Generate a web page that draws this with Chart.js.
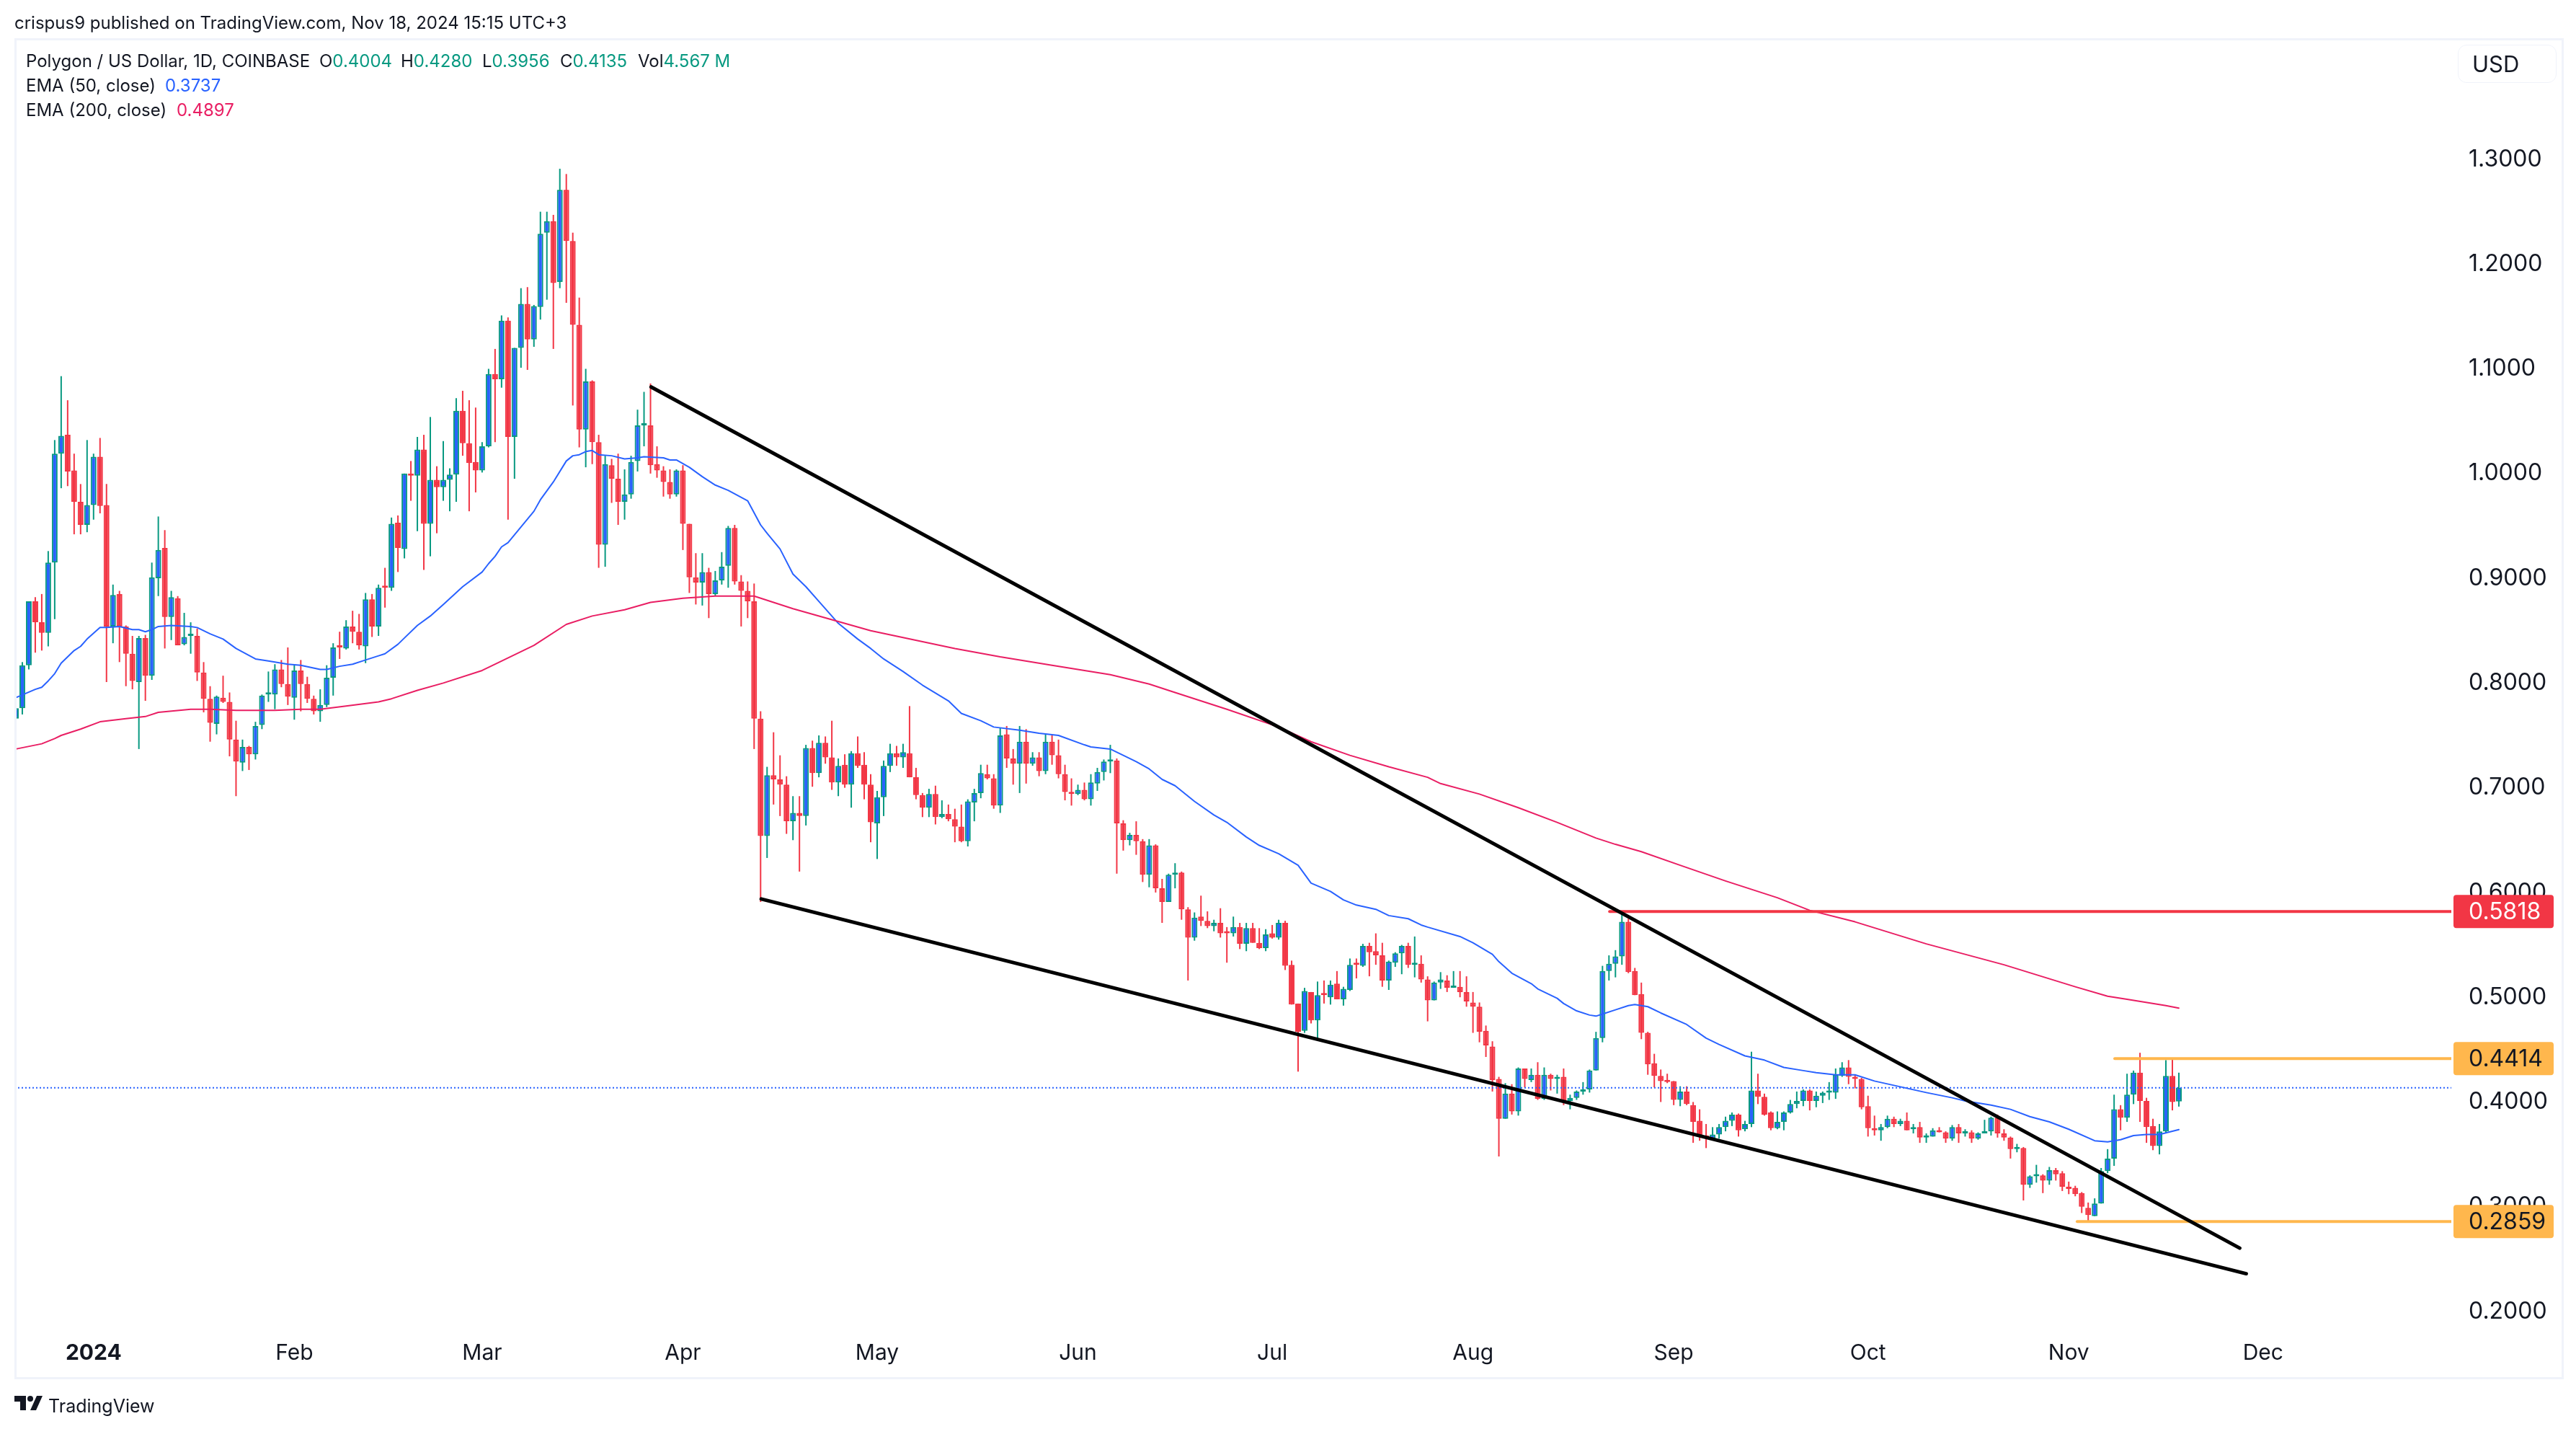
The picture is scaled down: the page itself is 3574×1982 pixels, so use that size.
<!DOCTYPE html>
<html>
<head>
<meta charset="utf-8">
<title>Polygon / US Dollar</title>
<script src="https://cdn.jsdelivr.net/npm/chart.js@4"></script>
<style>
    html, body { margin: 0; padding: 0; background: #fff; }
    body { width: 3574px; height: 1982px; position: relative; overflow: hidden; font-family: Inter, sans-serif; color: #131722; }
    canvas { position: absolute; left: 0; top: 0; }
    .txt { position: absolute; white-space: pre; font-size: 24px; line-height: 34px; }
    .green { color: #089981; }
    #moldura { position: absolute; left: 20px; top: 53px; width: 3531px; height: 1854px; border: 3px solid #f0f3fa; pointer-events: none; }
    #usd { position: absolute; left: 3410px; top: 62px; width: 135px; height: 51px; border: 1px solid #f0f3fa; border-radius: 12px; font-size: 31px; line-height: 51px; padding-left: 0; text-indent: 19px; }
    #logo { position: absolute; left: 20px; top: 1936px; }
</style>
</head>
<body>
<canvas id="grafico" width="3574" height="1982"></canvas>
<div id="moldura"></div>
<div class="txt" style="left:20px;top:15px">crispus9 published on TradingView.com, Nov 18, 2024 15:15 UTC+3</div>
<div class="txt" style="left:36px;top:68px">Polygon / US Dollar, 1D, COINBASE</div>
<div class="txt" style="left:443px;top:68px">O<span class="green">0.4004</span></div>
<div class="txt" style="left:556px;top:68px">H<span class="green">0.4280</span></div>
<div class="txt" style="left:669px;top:68px">L<span class="green">0.3956</span></div>
<div class="txt" style="left:777px;top:68px">C<span class="green">0.4135</span></div>
<div class="txt" style="left:885px;top:68px">Vol<span class="green">4.567 M</span></div>
<div class="txt" style="left:36px;top:102px">EMA (50, close)</div>
<div class="txt" style="left:229px;top:102px;color:#2962ff">0.3737</div>
<div class="txt" style="left:36px;top:136px">EMA (200, close)</div>
<div class="txt" style="left:245px;top:136px;color:#e91e63">0.4897</div>
<div id="usd">USD</div>
<svg id="logo" width="39" height="20" viewBox="0 0 39 20"><path fill="#131722" d="M0 0h16v20H8V8H0zM31 0h8l-9 20h-8z"/><circle fill="#131722" cx="22" cy="4" r="4"/></svg>
<div class="txt" style="left:67px;top:1933px;font-size:25px">TradingView</div>

<script>
// dia 0 = 1 Jan 2024, a primeira vela e de 20 Dez
const primeiroDia = -12;

const abertura = [
    .766,.776,.817,.878,.858,.848,.915,1.019,1.037,1.003,
    .973,.951,.970,1.016,.970,.854,.885,.854,.828,.801,
    .843,.807,.900,.929,.863,.881,.837,.845,.845,.810,
    .785,.761,.786,.782,.746,.724,.739,.732,.760,.789,
    .789,.813,.799,.786,.812,.799,.785,.773,.779,.805,
    .835,.833,.854,.849,.835,.880,.854,.892,.891,.953,
    .928,.999,.998,1.023,.952,.994,.987,.994,.999,1.060,
    1.029,1.011,1.003,1.026,1.095,1.090,1.146,1.035,1.120,1.162,
    1.128,1.159,1.230,1.241,1.183,1.271,1.222,1.142,1.042,1.088,
    1.030,.932,1.008,.995,.973,.980,1.012,1.046,1.046,1.009,
    1.003,.992,.980,1.003,.952,.901,.896,.906,.885,.898,
    .912,.948,.897,.888,.878,.766,.654,.712,.708,.703,
    .668,.676,.673,.738,.714,.743,.729,.705,.722,.703,
    .733,.722,.703,.666,.691,.721,.733,.729,.733,.710,
    .693,.681,.694,.672,.675,.670,.663,.649,.686,.695,
    .713,.709,.683,.751,.728,.723,.744,.723,.729,.716,
    .744,.731,.713,.696,.694,.698,.689,.704,.715,.725,
    .726,.666,.650,.655,.649,.617,.645,.604,.591,.617,
    .619,.584,.557,.577,.573,.568,.571,.562,.561,.567,
    .551,.566,.552,.547,.561,.557,.571,.531,.494,.468,
    .505,.478,.503,.500,.513,.498,.507,.532,.530,.549,
    .544,.540,.516,.533,.542,.549,.531,.532,.517,.497,
    .514,.516,.509,.510,.505,.495,.491,.468,.453,.422,
    .384,.408,.391,.432,.421,.426,.403,.426,.422,.424,
    .401,.404,.410,.412,.430,.461,.525,.532,.539,.572,
    .525,.503,.466,.437,.425,.421,.420,.402,.410,.397,
    .382,.368,.365,.369,.376,.382,.388,.374,.379,.411,
    .405,.390,.375,.381,.390,.398,.401,.411,.401,.406,
    .409,.409,.425,.433,.424,.422,.396,.375,.373,.376,
    .384,.379,.382,.374,.376,.366,.367,.373,.371,.365,
    .376,.370,.371,.365,.370,.372,.385,.370,.366,.355,
    .356,.321,.329,.330,.325,.335,.332,.319,.318,.313,
    .299,.291,.303,.334,.346,.393,.385,.407,.428,.401,
    .377,.358,.372,.425,.4004
];
const maximas = [
    .797,.820,.878,.882,.885,.926,1.032,1.093,1.070,1.019,
    .990,1.032,1.019,1.034,.990,.894,.888,.855,.845,.845,
    .846,.915,.959,.946,.888,.883,.867,.858,.852,.820,
    .797,.788,.807,.791,.764,.746,.740,.763,.789,.811,
    .818,.822,.834,.817,.822,.806,.788,.794,.817,.838,
    .849,.860,.869,.866,.886,.885,.894,.910,.958,.960,
    1.000,1.012,1.035,1.037,1.054,1.007,1.031,1.005,1.072,1.079,
    1.070,1.063,1.030,1.100,1.119,1.151,1.149,1.120,1.177,1.178,
    1.161,1.250,1.250,1.247,1.291,1.286,1.230,1.168,1.100,1.089,
    1.037,1.017,1.014,1.019,1.004,1.017,1.061,1.078,1.086,1.026,
    1.007,1.004,1.004,1.008,.952,.924,.924,.910,.907,.925,
    .950,.951,.903,.897,.895,.773,.720,.753,.731,.711,
    .692,.692,.741,.745,.750,.749,.764,.728,.732,.735,
    .749,.734,.713,.697,.726,.742,.740,.742,.778,.719,
    .695,.699,.702,.688,.684,.680,.684,.689,.699,.722,
    .722,.713,.757,.759,.737,.759,.756,.734,.734,.751,
    .750,.746,.722,.709,.703,.705,.713,.719,.727,.741,
    .728,.669,.657,.668,.651,.651,.646,.613,.618,.628,
    .620,.586,.581,.597,.582,.574,.585,.567,.577,.571,
    .571,.571,.566,.565,.569,.574,.573,.535,.494,.509,
    .505,.515,.516,.516,.525,.510,.537,.537,.551,.552,
    .561,.552,.535,.543,.550,.552,.558,.540,.520,.515,
    .524,.521,.525,.525,.520,.505,.495,.473,.458,.424,
    .418,.417,.433,.432,.432,.438,.433,.427,.426,.432,
    .407,.411,.419,.431,.467,.530,.540,.545,.582,.575,
    .528,.514,.467,.446,.431,.427,.420,.415,.415,.400,
    .393,.379,.376,.379,.386,.390,.389,.382,.448,.427,
    .408,.391,.391,.391,.402,.410,.412,.412,.410,.410,
    .419,.432,.438,.440,.426,.423,.406,.387,.379,.387,
    .386,.384,.390,.379,.381,.370,.375,.376,.372,.378,
    .379,.374,.373,.371,.383,.386,.388,.374,.367,.360,
    .357,.330,.340,.331,.338,.337,.334,.324,.320,.314,
    .304,.308,.337,.355,.407,.397,.427,.430,.447,.404,
    .384,.379,.440,.442,.4280
];
const minimas = [
    .754,.770,.813,.829,.831,.835,.861,.986,.988,.942,
    .942,.944,.956,.962,.801,.838,.820,.797,.794,.737,
    .783,.803,.883,.833,.841,.836,.836,.828,.802,.772,
    .744,.751,.781,.730,.692,.716,.717,.727,.756,.782,
    .775,.796,.779,.765,.773,.781,.770,.763,.777,.788,
    .823,.832,.838,.832,.819,.844,.845,.872,.888,.906,
    .919,.974,.945,.908,.921,.943,.974,.964,.973,1.017,
    .964,.982,1.001,1.025,1.030,1.082,.956,.995,1.101,1.099,
    1.121,1.147,1.166,1.119,1.177,1.163,1.065,1.025,1.006,1.009,
    .910,.911,.972,.951,.956,.976,1.002,1.026,1.000,.996,
    .978,.976,.978,.927,.886,.875,.874,.862,.883,.894,
    .891,.894,.854,.862,.737,.591,.633,.684,.673,.656,
    .650,.620,.664,.701,.710,.723,.698,.692,.700,.681,
    .719,.689,.648,.632,.673,.715,.721,.719,.710,.689,
    .672,.672,.665,.671,.668,.648,.648,.644,.668,.690,
    .708,.680,.676,.719,.703,.695,.704,.721,.711,.713,
    .722,.709,.688,.683,.693,.688,.683,.697,.707,.714,
    .618,.640,.645,.636,.610,.605,.600,.571,.591,.604,
    .574,.516,.554,.568,.566,.563,.557,.533,.558,.546,
    .544,.552,.546,.544,.556,.555,.526,.493,.429,.466,
    .475,.460,.494,.493,.498,.492,.506,.518,.529,.520,
    .531,.510,.507,.529,.522,.528,.519,.514,.477,.497,
    .508,.505,.509,.500,.491,.466,.457,.443,.410,.348,
    .384,.388,.387,.414,.419,.402,.402,.411,.408,.397,
    .393,.402,.407,.409,.430,.457,.516,.519,.531,.523,
    .502,.460,.426,.414,.400,.418,.397,.396,.397,.361,
    .363,.356,.365,.365,.372,.377,.367,.372,.376,.398,
    .387,.373,.374,.373,.389,.394,.396,.392,.395,.399,
    .402,.403,.424,.417,.413,.393,.367,.368,.363,.375,
    .376,.377,.373,.370,.361,.361,.367,.371,.361,.363,
    .361,.367,.361,.364,.370,.368,.366,.363,.346,.352,
    .306,.318,.323,.313,.321,.325,.315,.312,.310,.294,
    .285,.291,.303,.332,.339,.373,.381,.398,.381,.361,
    .354,.350,.370,.392,.3956
];
const fechamento = [
    .776,.817,.878,.858,.848,.915,1.019,1.036,1.002,.973,
    .951,.970,1.016,.969,.854,.884,.854,.828,.802,.843,
    .807,.901,.927,.863,.882,.836,.844,.846,.810,.785,
    .762,.787,.782,.746,.725,.739,.732,.759,.788,.790,
    .813,.799,.787,.812,.799,.785,.773,.779,.805,.834,
    .834,.854,.849,.836,.880,.854,.891,.891,.952,.929,
    1.000,.998,1.023,.952,.994,.987,.994,.999,1.060,1.029,
    1.010,1.003,1.026,1.095,1.090,1.146,1.035,1.120,1.162,1.128,
    1.160,1.229,1.241,1.182,1.271,1.222,1.142,1.042,1.088,1.030,
    .932,1.009,.995,.973,.980,1.011,1.046,1.047,1.008,1.003,
    .992,.980,1.003,.952,.901,.896,.906,.885,.898,.911,
    .948,.897,.888,.878,.766,.654,.712,.708,.703,.668,
    .676,.673,.738,.714,.743,.729,.705,.721,.703,.733,
    .721,.703,.667,.691,.721,.733,.729,.734,.710,.693,
    .681,.694,.672,.675,.670,.663,.649,.687,.695,.714,
    .709,.683,.750,.728,.723,.744,.723,.729,.716,.744,
    .731,.713,.696,.694,.698,.689,.705,.715,.725,.726,
    .666,.650,.655,.649,.617,.645,.604,.591,.617,.619,
    .584,.557,.576,.573,.568,.571,.561,.561,.567,.551,
    .566,.552,.547,.560,.557,.571,.530,.493,.467,.506,
    .478,.502,.502,.512,.498,.508,.531,.531,.549,.543,
    .540,.516,.534,.542,.549,.531,.533,.517,.497,.514,
    .517,.509,.510,.505,.496,.491,.467,.454,.421,.384,
    .408,.391,.432,.422,.426,.403,.426,.422,.424,.401,
    .404,.410,.411,.430,.461,.525,.532,.539,.572,.524,
    .502,.466,.436,.425,.420,.419,.402,.410,.398,.381,
    .367,.365,.369,.376,.382,.388,.373,.379,.411,.405,
    .388,.375,.381,.390,.398,.401,.411,.401,.406,.409,
    .410,.426,.433,.424,.422,.395,.375,.373,.376,.384,
    .379,.382,.373,.376,.366,.368,.373,.371,.365,.376,
    .370,.371,.365,.370,.371,.385,.370,.366,.355,.357,
    .321,.329,.331,.325,.335,.331,.319,.317,.312,.300,
    .292,.303,.334,.346,.393,.385,.407,.428,.401,.376,
    .358,.372,.425,.400,.4135
];

const diasEma50 = [-12,-9,-8,-7,-6,-5,-3,-2,-1,1,2,4,6,7,8,9,10,12,15,16,18,20,22,25,27,29,30,32,35,36,38,40,42,44,45,47,48,50,52,54,57,60,61,62,63,64,66,68,69,71,73,74,75,76,77,78,80,82,84,85,88,89,90,92,94,96,98,101,103,104,106,108,110,112,115,118,120,122,125,128,132,134,137,139,143,146,149,153,154,157,161,163,165,167,170,173,175,178,180,183,186,188,191,193,195,198,200,203,205,206,211,213,216,217,219,222,223,226,227,229,231,232,233,235,237,238,240,242,246,249,251,255,258,261,264,266,269,272,275,283,287,289,293,296,299,302,305,309,311,313,315,317,319,322];
const valoresEma50 = [.786,.794,.796,.802,.809,.819,.831,.835,.842,.853,.853,.854,.851,.851,.849,.851,.854,.855,.854,.853,.847,.842,.833,.823,.821,.819,.818,.817,.813,.813,.816,.818,.822,.826,.828,.837,.843,.855,.864,.875,.892,.906,.914,.921,.930,.934,.949,.964,.975,.992,1.012,1.017,1.018,1.021,1.022,1.018,1.017,1.014,1.015,1.016,1.015,1.013,1.013,1.006,.997,.989,.984,.974,.951,.943,.928,.904,.892,.878,.857,.842,.833,.823,.811,.798,.783,.771,.764,.758,.755,.752,.750,.741,.739,.737,.725,.718,.708,.702,.687,.674,.667,.653,.645,.637,.626,.609,.601,.593,.588,.584,.578,.575,.569,.567,.558,.552,.541,.534,.523,.513,.508,.499,.494,.487,.483,.482,.484,.488,.492,.493,.491,.485,.474,.461,.455,.444,.440,.433,.430,.428,.426,.426,.420,.409,.404,.401,.397,.393,.386,.381,.374,.363,.362,.364,.368,.369,.369,.3737];

const diasEma200 = [-12,-8,-6,-5,-2,1,5,8,10,15,18,22,25,28,32,35,39,44,46,50,54,60,63,68,73,77,82,86,91,96,102,108,120,133,140,148,157,163,167,175,183,188,194,200,206,208,214,220,226,232,235,239,245,252,260,265,272,283,295,306,311,314,320,322];
const valoresEma200 = [.737,.742,.747,.750,.756,.763,.766,.768,.772,.775,.775,.774,.774,.774,.775,.775,.778,.782,.785,.793,.800,.812,.821,.836,.856,.864,.870,.877,.881,.883,.883,.871,.850,.833,.825,.817,.808,.799,.791,.775,.758,.744,.731,.720,.710,.704,.694,.681,.667,.652,.646,.639,.626,.611,.595,.583,.572,.551,.531,.510,.501,.498,.492,.4897];

// linhas desenhadas a mao: [dia inicial, preco inicial, dia final, preco final]
const tendenciaSuperior = [86.1, 1.0827, 331.4, 0.2605];
const tendenciaInferior = [103.1, 0.5938, 332.4, 0.2361];
const inicioResistencia = 234.1, precoResistencia = 0.5818;
const inicioTopo = 312.1, precoTopo = 0.4414;
const inicioFundo = 306.3, precoFundo = 0.2859;
const ultimoPreco = 0.4135;

const ticksPreco = [0.2, 0.3, 0.4, 0.5, 0.6, 0.7, 0.8, 0.9, 1.0, 1.1, 1.2, 1.3];
const ticksDia = [0, 31, 60, 91, 121, 152, 182, 213, 244, 274, 305, 335];
const rotulosMes = ['2024', 'Feb', 'Mar', 'Apr', 'May', 'Jun', 'Jul', 'Aug', 'Sep', 'Oct', 'Nov', 'Dec'];

const etiquetas = [
    { valor: precoResistencia, fundo: '#f23645', texto: '#ffffff' },
    { valor: precoTopo, fundo: '#ffb74d', texto: '#131722' },
    { valor: precoFundo, fundo: '#ffb74d', texto: '#131722' }
];

const corVerde = '#089981', corVermelha = '#f23645', corAzul = '#2962ff';
const xMin = -12.22, xMax = 364.07;
const yMin = 0.1821, yMax = 1.41496;

const dias = abertura.map((_, i) => primeiroDia + i);
const subiu = abertura.map((o, i) => fechamento[i] >= o);

function pontos(xs, ys) {
    return xs.map((x, i) => ({ x: x, y: ys[i] }));
}
function linha(dados, cor, largura, ordem, extra) {
    return Object.assign({
        type: 'line', data: dados, borderColor: cor, borderWidth: largura, order: ordem,
        pointRadius: 0, tension: 0, fill: false, borderCapStyle: 'round', borderJoinStyle: 'round'
    }, extra || {});
}

const pluginEtiquetas = {
    id: 'etiquetas',
    afterDraw(chart) {
        const ctx = chart.ctx;
        const direita = chart.chartArea.right;
        ctx.save();
        ctx.font = '32px Inter';
        ctx.textBaseline = 'middle';
        ctx.textAlign = 'left';
        etiquetas.forEach(e => {
            const y = chart.scales.y.getPixelForValue(e.valor);
            ctx.fillStyle = e.fundo;
            ctx.beginPath();
            ctx.roundRect(direita + 3, y - 23, 139, 46, 4);
            ctx.fill();
            ctx.fillStyle = e.texto;
            ctx.fillText(e.valor.toFixed(4), direita + 24, y + 1);
        });
        ctx.restore();
    }
};

new Chart(document.getElementById('grafico'), {
    type: 'bar',
    data: {
        datasets: [
            {
                data: dias.map((d, i) => ({ x: d, y: [minimas[i], maximas[i]] })),
                backgroundColor: subiu.map(s => s ? corVerde : corVermelha),
                borderWidth: 0, grouped: false, barPercentage: 1, categoryPercentage: 1,
                maxBarThickness: 2, inflateAmount: 0, order: 5
            },
            {
                data: dias.map((d, i) => ({ x: d, y: [abertura[i], fechamento[i]] })),
                backgroundColor: subiu.map(s => s ? corAzul : corVermelha),
                borderColor: subiu.map(s => s ? corVerde : corVermelha),
                borderWidth: 2, borderSkipped: false, grouped: false, barPercentage: 1, categoryPercentage: 1,
                maxBarThickness: 8, minBarLength: 3, inflateAmount: 0, order: 4
            },
            linha(pontos([xMin, xMax], [ultimoPreco, ultimoPreco]), corAzul, 2, 3, { borderDash: [2, 3], borderCapStyle: 'butt' }),
            linha(pontos(diasEma200, valoresEma200), '#e91e63', 2, 2),
            linha(pontos(diasEma50, valoresEma50), corAzul, 2, 2),
            linha(pontos([tendenciaSuperior[0], tendenciaSuperior[2]], [tendenciaSuperior[1], tendenciaSuperior[3]]), '#000000', 5, 0),
            linha(pontos([tendenciaInferior[0], tendenciaInferior[2]], [tendenciaInferior[1], tendenciaInferior[3]]), '#000000', 5, 0),
            linha(pontos([inicioResistencia, xMax], [precoResistencia, precoResistencia]), corVermelha, 4, 1),
            linha(pontos([inicioTopo, xMax], [precoTopo, precoTopo]), '#ffb74d', 4, 1),
            linha(pontos([inicioFundo, xMax], [precoFundo, precoFundo]), '#ffb74d', 4, 1)
        ]
    },
    options: {
        responsive: false,
        animation: false,
        devicePixelRatio: 1,
        layout: { padding: { left: 20, top: 54, right: 20, bottom: 72 } },
        plugins: { legend: { display: false }, tooltip: { enabled: false } },
        scales: {
            x: {
                type: 'linear', min: xMin, max: xMax, offset: false,
                grid: { display: false, drawTicks: false, offset: false },
                border: { display: false },
                afterBuildTicks: s => { s.ticks = ticksDia.map(v => ({ value: v })); },
                afterFit: s => { s.height = 65; },
                ticks: {
                    autoSkip: false, maxRotation: 0, padding: 14, color: '#131722',
                    font: ctx => ({ family: 'Inter', size: 30, weight: ctx.index === 0 ? 'bold' : 'normal' }),
                    callback: (v, i) => rotulosMes[i]
                }
            },
            y: {
                type: 'linear', position: 'right', min: yMin, max: yMax,
                grid: { display: false, drawTicks: false },
                border: { display: false },
                afterBuildTicks: s => { s.ticks = ticksPreco.map(v => ({ value: v })); },
                afterFit: s => { s.width = 153; },
                ticks: {
                    autoSkip: false, padding: 24, color: '#131722',
                    font: { family: 'Inter', size: 32 },
                    callback: v => v.toFixed(4)
                }
            }
        }
    },
    plugins: [pluginEtiquetas]
});
</script>
</body>
</html>
